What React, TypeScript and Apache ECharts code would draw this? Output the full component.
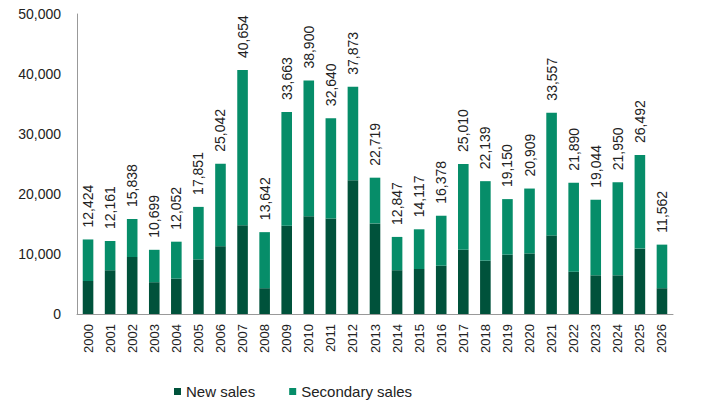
import React, { useEffect, useRef } from "react";
import * as echarts from "echarts";

const years = ["2000","2001","2002","2003","2004","2005","2006","2007","2008","2009","2010","2011","2012","2013","2014","2015","2016","2017","2018","2019","2020","2021","2022","2023","2024","2025","2026"];
const totals = [12424,12161,15838,10699,12052,17851,25042,40654,13642,33663,38900,32640,37873,22719,12847,14117,16378,25010,22139,19150,20909,33557,21890,19044,21950,26492,11562];
const newSales = [5500,7300,9500,5300,5900,9100,11300,14800,4300,14700,16300,15900,22300,15100,7300,7500,8050,10700,8900,9900,10100,13100,7050,6450,6450,10900,4300];
const secondarySales = [6924,4861,6338,5399,6152,8751,13742,25854,9342,18963,22600,16740,15573,7619,5547,6617,8328,14310,13239,9250,10809,20457,14840,12594,15500,15592,7262];
const yTicks = { min: 0, max: 50000, interval: 10000 };

const FONT = "'Liberation Sans', Arial, sans-serif";
const fmt = (v: number) => v.toLocaleString("en-US");

export default function App() {
  const ref = useRef<HTMLDivElement>(null);
  useEffect(() => {
    document.body.style.margin = "0";
    if (!ref.current) return;
    const chart = echarts.init(ref.current, null, { renderer: "svg" });
    chart.setOption({
      animation: false,
      textStyle: { fontFamily: FONT },
      grid: { left: 77, right: 33, top: 14, bottom: 102, containLabel: false },
      legend: {
        left: 169,
        top: 379,
        itemWidth: 7,
        itemHeight: 7,
        itemGap: 34,
        icon: "rect",
        textStyle: { fontSize: 15, color: "#222", fontFamily: FONT },
        data: ["New sales", "Secondary sales"],
      },
      xAxis: {
        type: "category",
        data: years,
        axisLine: { show: true, lineStyle: { color: "#999", width: 1 } },
        axisTick: { show: false },
        axisLabel: { rotate: 90, fontSize: 13, color: "#222", margin: 10, fontFamily: FONT },
      },
      yAxis: {
        type: "value",
        min: yTicks.min,
        max: yTicks.max,
        interval: yTicks.interval,
        splitLine: { show: false },
        axisLine: { show: true, lineStyle: { color: "#999", width: 1 } },
        axisTick: { show: false },
        axisLabel: { fontSize: 14, color: "#222", margin: 16, formatter: (v: number) => fmt(v), fontFamily: FONT },
      },
      series: [
        {
          name: "New sales",
          type: "bar",
          stack: "total",
          data: newSales,
          barWidth: "48%",
          itemStyle: { color: "#00523b" },
        },
        {
          name: "Secondary sales",
          type: "bar",
          stack: "total",
          data: secondarySales,
          barWidth: "48%",
          itemStyle: { color: "#068d69" },
          label: {
            show: true,
            position: "top",
            rotate: 90,
            align: "left",
            verticalAlign: "middle",
            distance: 12,
            fontSize: 14,
            color: "#222",
            fontFamily: FONT,
            formatter: (p: any) => fmt(totals[p.dataIndex]),
          },
        },
      ],
    });
    return () => chart.dispose();
  }, []);
  return <div ref={ref} style={{ width: 706, height: 416 }} />;
}
